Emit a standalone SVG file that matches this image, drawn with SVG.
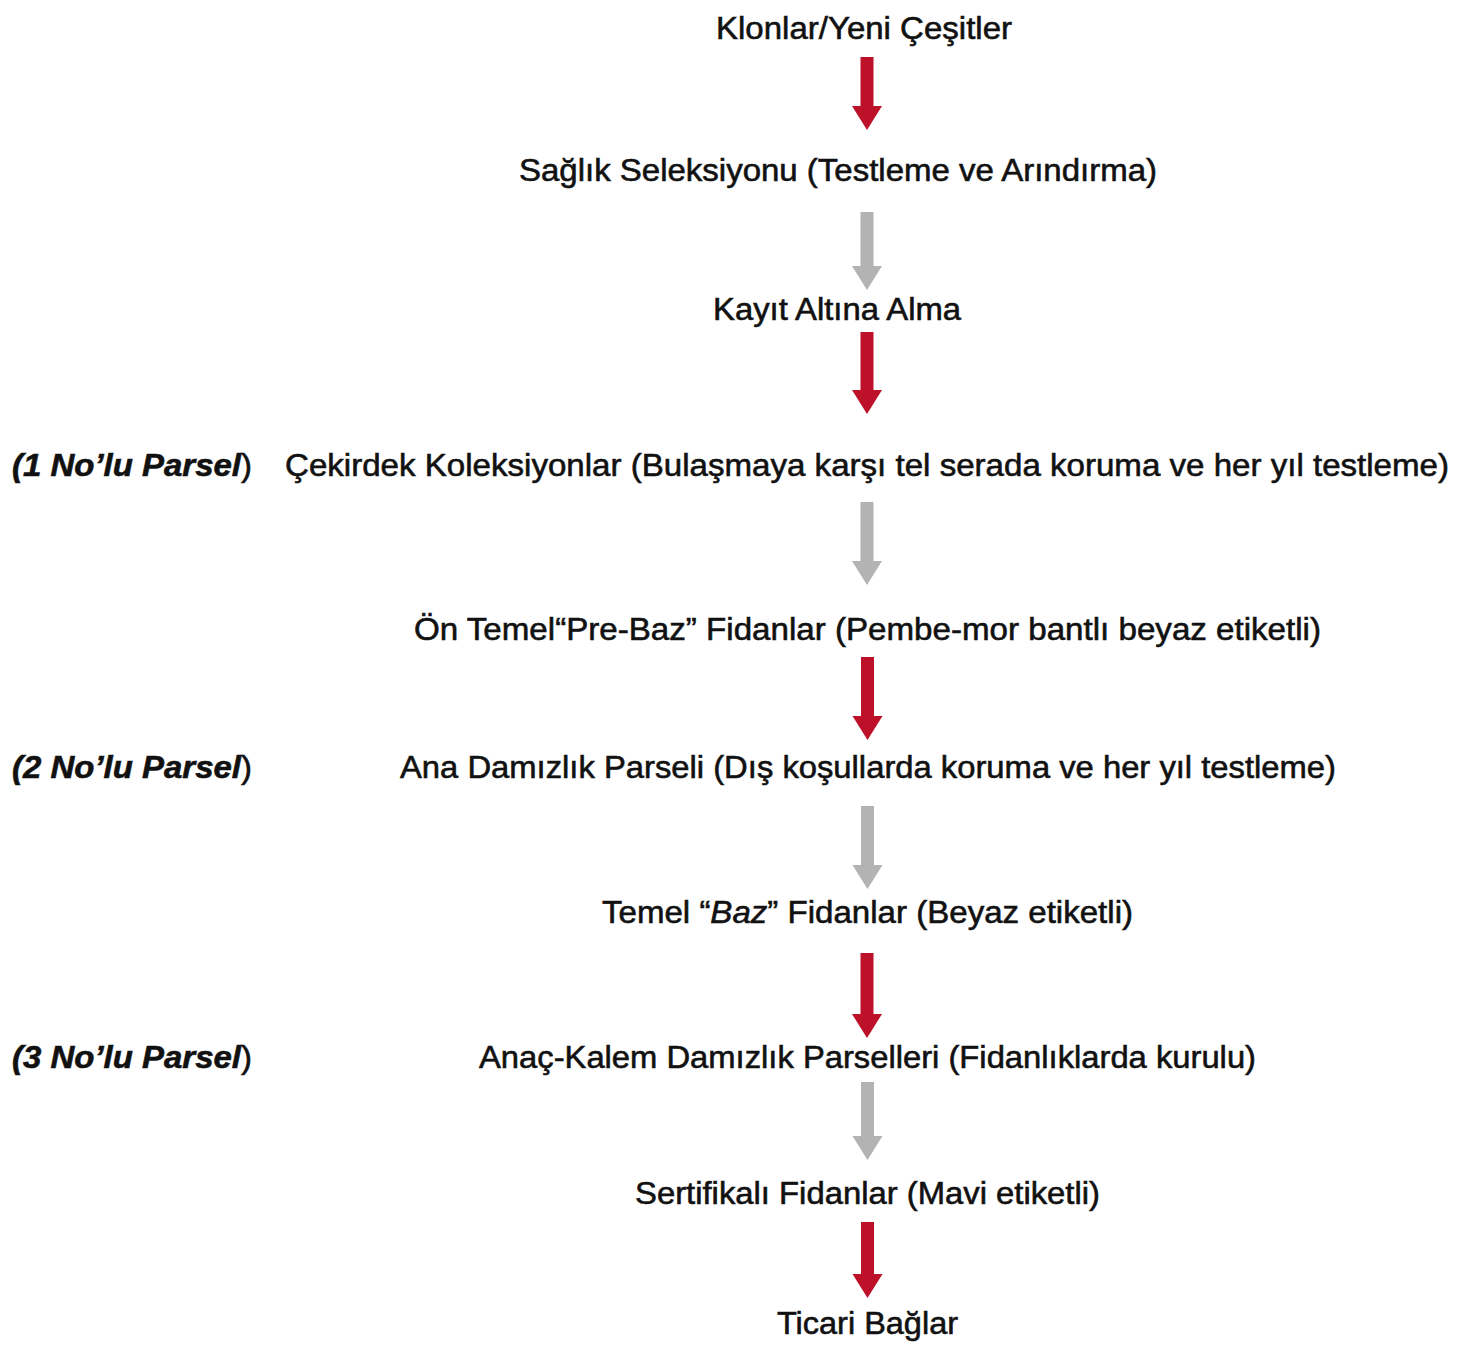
<svg xmlns="http://www.w3.org/2000/svg" width="1457" height="1348" viewBox="0 0 1457 1348">
<style>
  .t { font-family: "Liberation Sans", Arial, Helvetica, sans-serif; font-size: 32px; fill: #111111; stroke: #111111; stroke-width: 0.6px; }
  .p { font-family: "Liberation Sans", Arial, Helvetica, sans-serif; font-size: 32px; fill: #111111; stroke: #111111; stroke-width: 0.6px; }
  .bi { font-weight: bold; font-style: italic; }
  .red { fill: #bd1029; }
  .gray { fill: #b3b3b3; }
</style>
<rect width="1457" height="1348" fill="#ffffff"/>
<g id="connectors">
  <polygon class="red" points="860.5,57 873.5,57 873.5,106 882,106 867,130 852,106 860.5,106"/>
  <polygon class="gray" points="860.5,212 873.5,212 873.5,266 882,266 867,290 852,266 860.5,266"/>
  <polygon class="red" points="860.5,332 873.5,332 873.5,390 882,390 867,414 852,390 860.5,390"/>
  <polygon class="gray" points="860.5,502 873.5,502 873.5,561 882,561 867,585 852,561 860.5,561"/>
  <polygon class="red" points="861,657 874,657 874,716 882.5,716 867.5,740 852.5,716 861,716"/>
  <polygon class="gray" points="861,806 874,806 874,865 882.5,865 867.5,889 852.5,865 861,865"/>
  <polygon class="red" points="860.5,953 873.5,953 873.5,1014 882,1014 867,1038 852,1014 860.5,1014"/>
  <polygon class="gray" points="861,1082 874,1082 874,1136 882.5,1136 867.5,1160 852.5,1136 861,1136"/>
  <polygon class="red" points="861,1222 874,1222 874,1274 882.5,1274 867.5,1298 852.5,1274 861,1274"/>
</g>
<g id="n1"><text class="t" x="716" y="39" textLength="296" lengthAdjust="spacingAndGlyphs">Klonlar/Yeni Çeşitler</text></g>
<g id="n2"><text class="t" x="519" y="181" textLength="638" lengthAdjust="spacingAndGlyphs">Sağlık Seleksiyonu (Testleme ve Arındırma)</text></g>
<g id="n3"><text class="t" x="713" y="320" textLength="248" lengthAdjust="spacingAndGlyphs">Kayıt Altına Alma</text></g>
<g id="p1"><text class="p" x="12" y="476" textLength="240" lengthAdjust="spacingAndGlyphs"><tspan class="bi">(1 No’lu Parsel</tspan>)</text></g>
<g id="n4"><text class="t" x="285" y="476" textLength="1164" lengthAdjust="spacingAndGlyphs">Çekirdek Koleksiyonlar (Bulaşmaya karşı tel serada koruma ve her yıl testleme)</text></g>
<g id="n5"><text class="t" x="414" y="640" textLength="907" lengthAdjust="spacingAndGlyphs">Ön Temel“Pre-Baz” Fidanlar (Pembe-mor bantlı beyaz etiketli)</text></g>
<g id="p2"><text class="p" x="12" y="778" textLength="240" lengthAdjust="spacingAndGlyphs"><tspan class="bi">(2 No’lu Parsel</tspan>)</text></g>
<g id="n6"><text class="t" x="400" y="778" textLength="936" lengthAdjust="spacingAndGlyphs">Ana Damızlık Parseli (Dış koşullarda koruma ve her yıl testleme)</text></g>
<g id="n7"><text class="t" x="602" y="923" textLength="531" lengthAdjust="spacingAndGlyphs">Temel “<tspan font-style="italic">Baz</tspan>” Fidanlar (Beyaz etiketli)</text></g>
<g id="p3"><text class="p" x="12" y="1068" textLength="240" lengthAdjust="spacingAndGlyphs"><tspan class="bi">(3 No’lu Parsel</tspan>)</text></g>
<g id="n8"><text class="t" x="479" y="1068" textLength="777" lengthAdjust="spacingAndGlyphs">Anaç-Kalem Damızlık Parselleri (Fidanlıklarda kurulu)</text></g>
<g id="n9"><text class="t" x="635" y="1204" textLength="465" lengthAdjust="spacingAndGlyphs">Sertifikalı Fidanlar (Mavi etiketli)</text></g>
<g id="n10"><text class="t" x="777" y="1334" textLength="181" lengthAdjust="spacingAndGlyphs">Ticari Bağlar</text></g>
</svg>
